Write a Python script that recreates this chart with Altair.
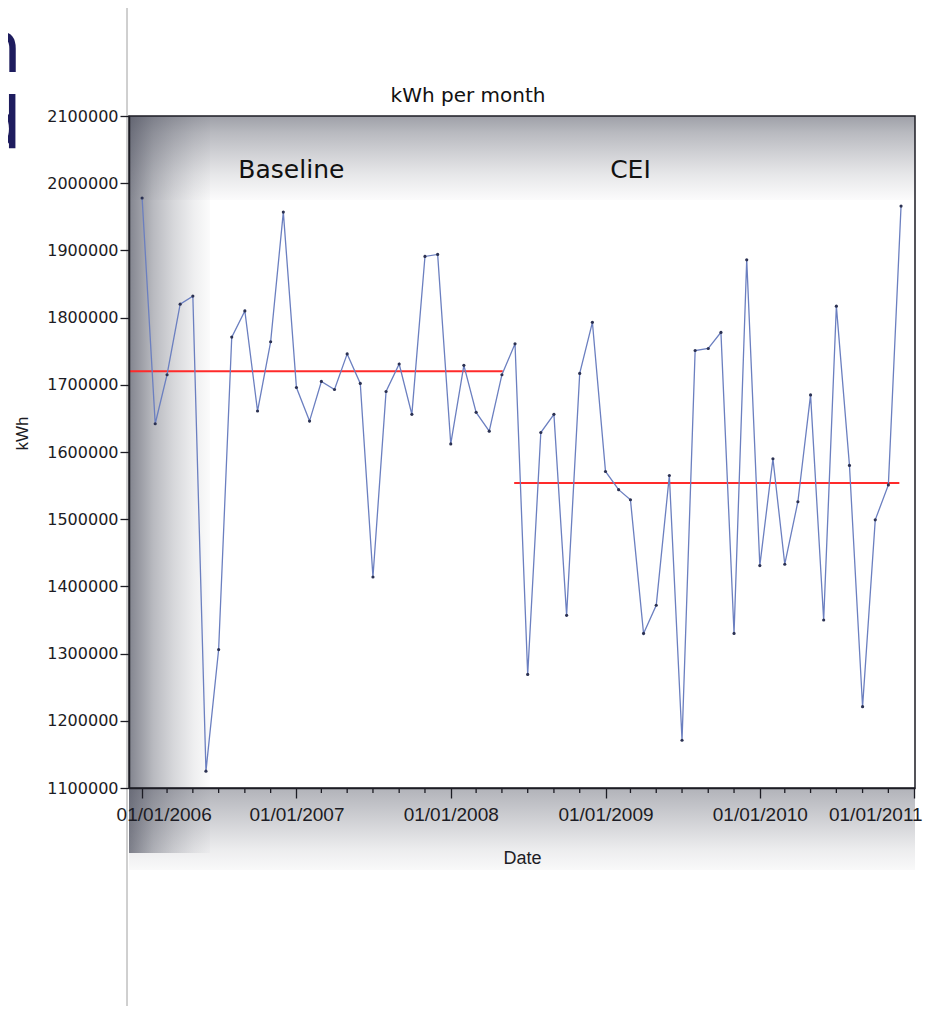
import altair as alt
import pandas as pd

# ---------------- data ----------------
months = pd.date_range("2006-01-01", "2010-12-01", freq="MS").strftime("%Y-%m-%d").tolist()

kwh = [
    1978000, 1642000, 1715000, 1820000, 1832000, 1125000, 1306000, 1771000, 1810000, 1661000, 1764000, 1957000,
    1696000, 1646000, 1705000, 1693000, 1746000, 1702000, 1414000, 1690000, 1731000, 1656000, 1891000, 1894000,
    1612000, 1729000, 1659000, 1631000, 1715000, 1761000, 1269000, 1629000, 1656000, 1357000, 1717000, 1793000,
    1571000, 1544000, 1529000, 1330000, 1372000, 1565000, 1171000, 1751000, 1754000, 1778000, 1330000, 1886000,
    1431000, 1590000, 1433000, 1526000, 1685000, 1350000, 1817000, 1580000, 1221000, 1499000, 1551000, 1966000,
]

period_names = ["Baseline", "CEI"]
period_starts = ["2005-12-01", "2008-05-30"]
period_ends = ["2008-05-03", "2010-11-27"]
period_means = [1720000, 1554000]
period_label_dates = ["2006-12-20", "2009-03-01"]
period_label_level = [2008000, 2008000]

year_tick_years = [2006, 2007, 2008, 2009, 2010, 2011]
y_tick_values = [1100000, 1200000, 1300000, 1400000, 1500000, 1600000,
                 1700000, 1800000, 1900000, 2000000, 2100000]
minor_tick_dates = [f"{y}-{m:02d}-01" for y in range(2006, 2011) for m in (3, 5, 7, 9, 11)]

# ---------------- tables ----------------
df = pd.DataFrame({"date": months, "kwh": kwh})
periods = pd.DataFrame({"name": period_names, "start": period_starts, "end": period_ends,
                        "mean": period_means, "label_date": period_label_dates,
                        "label_level": period_label_level})
minor = pd.DataFrame({"date": minor_tick_dates})
one = pd.DataFrame({"k": [0]})

W, H = 786, 672
INK = "#1c1c24"

xscale = alt.Scale(type="utc",
                   domain=[alt.DateTime(year=2005, month=12, date=1, utc=True),
                           alt.DateTime(year=2011, month=1, date=3, utc=True)])
yscale = alt.Scale(domain=[1100000, 2100000], nice=False, zero=False)

xaxis = alt.Axis(
    values=[alt.DateTime(year=y, month=1, date=1, utc=True) for y in year_tick_years],
    format="%d/%m/%Y", grid=False, zindex=1,
    domainColor=INK, domainWidth=1.5, tickColor=INK, tickWidth=1.3, tickSize=10,
    labelFont="Liberation Sans", labelFontSize=19, labelColor=INK, labelPadding=7,
    labelFlush=20, labelFlushOffset=8, labelOverlap=False,
    labelOffset={"condition": {"test": "utcyear(datum.value) == 2006", "value": -18}, "value": 0},
    title="Date", titleFont="Liberation Sans", titleFontSize=18, titleFontWeight="normal",
    titleColor=INK, titleX=393, titleY=70, titleBaseline="middle", titleAlign="center",
)
yaxis = alt.Axis(
    values=y_tick_values, format="d", grid=False, zindex=1,
    domainColor=INK, domainWidth=1.5, tickColor=INK, tickWidth=1.3, tickSize=9,
    labelFont="DejaVu Sans", labelFontSize=16, labelColor=INK, labelPadding=2,
    labelOverlap=False,
    title="kWh", titleFont="Liberation Sans", titleFontSize=17, titleFontWeight="normal",
    titleColor=INK, titleX=-107, titleY=317, titleAngle=270,
    titleBaseline="middle", titleAlign="center",
)


def grad(stops, horizontal):
    return alt.LinearGradient(
        gradient="linear",
        stops=[alt.GradientStop(offset=o, color=f"rgba(70,73,88,{a})") for o, a in stops],
        x1=0, y1=0, x2=1 if horizontal else 0, y2=0 if horizontal else 1,
    )


# ---------------- decoration ----------------
left_band = alt.Chart(one).mark_rect(
    fill=grad([(0, 0.68), (0.3, 0.38), (0.55, 0.22), (0.8, 0.09), (1, 0.02)], True), strokeWidth=0
).encode(x=alt.value(0), x2=alt.value(81), y=alt.value(0), y2=alt.value(737))

top_band = alt.Chart(one).mark_rect(
    fill=grad([(0, 0.52), (0.2, 0.38), (0.45, 0.25), (0.7, 0.13), (1, 0.02)], False), strokeWidth=0
).encode(x=alt.value(0), x2=alt.value(W), y=alt.value(0), y2=alt.value(84))

bottom_band = alt.Chart(one).mark_rect(
    fill=grad([(0, 0.42), (0.4, 0.25), (0.75, 0.1), (1, 0.03)], False), strokeWidth=0
).encode(x=alt.value(0), x2=alt.value(W), y=alt.value(H), y2=alt.value(H + 82))

slide_rule = alt.Chart(one).mark_rule(color="#a0a0a0", strokeWidth=1).encode(
    x=alt.value(-2), y=alt.value(-108), y2=alt.value(910))

slide_n = alt.Chart(one).mark_text(text="n", font="DejaVu Sans", fontSize=72, color="#1e1c5e",
                                   align="right", baseline="alphabetic").encode(
    x=alt.value(-107), y=alt.value(-44))
slide_d = alt.Chart(one).mark_text(text="d", font="DejaVu Sans", fontSize=72, color="#1e1c5e",
                                   align="right", baseline="alphabetic").encode(
    x=alt.value(-107), y=alt.value(32))

frame = alt.Chart(one).mark_rect(fillOpacity=0, stroke=INK, strokeWidth=1.5).encode(
    x=alt.value(0), x2=alt.value(W), y=alt.value(0), y2=alt.value(H))

title = alt.Chart(one).mark_text(text="kWh per month", font="DejaVu Sans", fontSize=20, color="#111111",
                                 align="center", baseline="alphabetic").encode(
    x=alt.value(339), y=alt.value(-14))

# ---------------- data marks ----------------
mean_rules = alt.Chart(periods).mark_rule(color="#ff2a2a", strokeWidth=2).encode(
    x=alt.X("start:T", scale=xscale, axis=xaxis), x2="end:T",
    y=alt.Y("mean:Q", scale=yscale, axis=yaxis))

line = alt.Chart(df).mark_line(color="#6b7fc0", strokeWidth=1.3).encode(
    x=alt.X("date:T", scale=xscale, axis=xaxis),
    y=alt.Y("kwh:Q", scale=yscale, axis=yaxis))

points = alt.Chart(df).mark_circle(size=10, color="#2b3152", opacity=1).encode(
    x=alt.X("date:T", scale=xscale, axis=xaxis),
    y=alt.Y("kwh:Q", scale=yscale, axis=yaxis))

period_text = alt.Chart(periods).mark_text(font="DejaVu Sans", fontSize=25, color="#111111",
                                           align="center", baseline="alphabetic").encode(
    x=alt.X("label_date:T", scale=xscale, axis=xaxis),
    y=alt.Y("label_level:Q", scale=yscale, axis=yaxis),
    text="name:N")

minor_ticks = alt.Chart(minor).mark_rule(color=INK, strokeWidth=1.3).encode(
    x=alt.X("date:T", scale=xscale, axis=xaxis), y=alt.value(H), y2=alt.value(H + 5))

chart = alt.layer(
    left_band, top_band, bottom_band, slide_rule, slide_n, slide_d,
    mean_rules, line, points, period_text, minor_ticks, frame, title,
).properties(
    width=W, height=H,
    padding={"left": 121, "top": 108, "right": 9, "bottom": 218},
    autosize=alt.AutoSizeParams(type="none"),
).configure_view(strokeWidth=0)

chart.save("out.html", embed_options={"renderer": "svg", "actions": False})
